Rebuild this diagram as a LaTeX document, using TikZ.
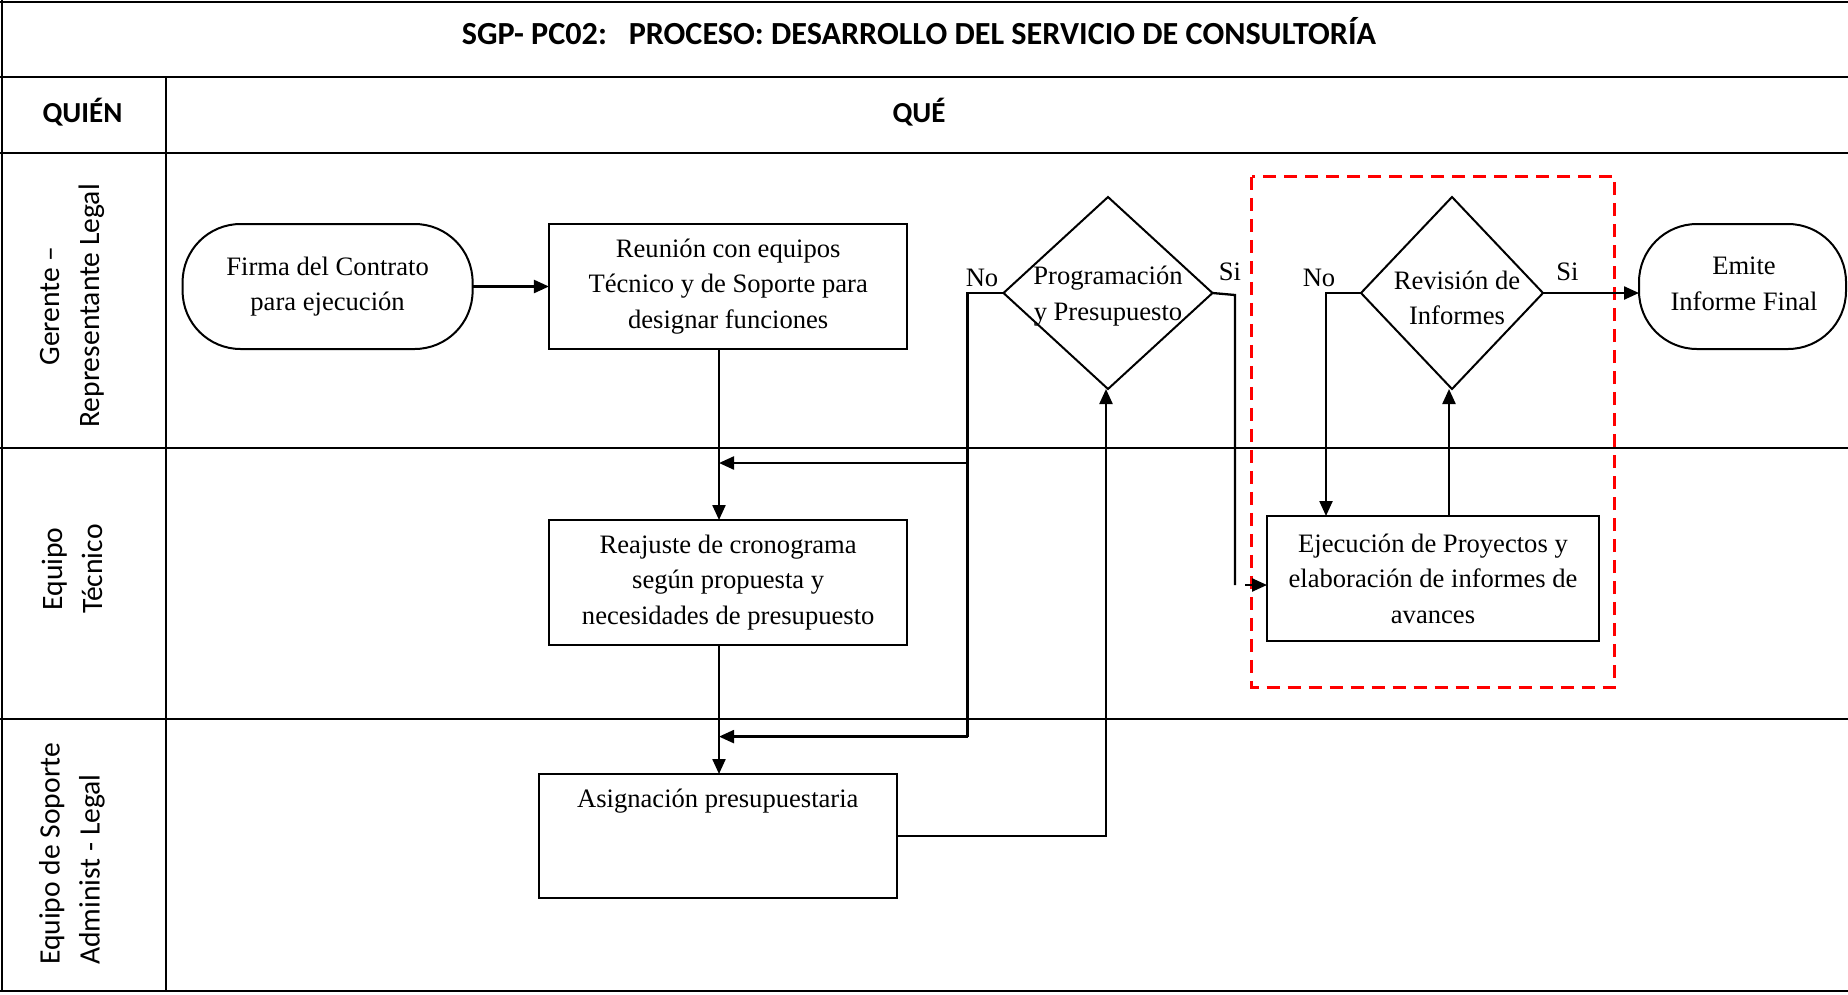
\documentclass[tikz,border=0pt]{standalone}
\usepackage{fontspec}
\setmainfont{Liberation Serif}
\newfontfamily\hdrfont{Carlito}
\usetikzlibrary{arrows.meta,shapes.geometric}
\begin{document}
\begin{tikzpicture}[x=1pt,y=-1pt,
  every node/.style={inner sep=0pt,outer sep=0pt},
  grid/.style={line width=2pt,black},
  txt/.style={align=center,font=\fontsize{26.6}{35.4}\selectfont},
  hdr/.style={font=\hdrfont\bfseries\fontsize{29}{34}\selectfont},
  lane/.style={rotate=90,font=\hdrfont\fontsize{29.6}{40}\selectfont},
  procbox/.style={draw,line width=2pt,rectangle},
  termbox/.style={draw,line width=2pt,rectangle,rounded corners=58pt},
  decbox/.style={draw,line width=2pt,diamond},
  flow/.style={line width=2.3pt},
  arr/.style={flow,-{Triangle[length=15pt,width=13pt]}},
  lbl/.style={font=\fontsize{26.6}{30}\selectfont},
  redbox/.style={draw=red,line width=3pt,dash pattern=on 13pt off 8pt}
]
\useasboundingbox (0,0) rectangle (1848,994);
\fill[white] (0,0) rectangle (1848,994);

% table frame
\draw[grid] (0,1.5) -- (1848,1.5);
\draw[grid] (0,76.6) -- (1848,76.6);
\draw[grid] (0,153) -- (1848,153);
\draw[grid] (0,448) -- (1848,448);
\draw[grid] (0,719) -- (1848,719);
\draw[grid] (0,991) -- (1848,991);
\draw[grid] (1.5,0) -- (1.5,992);
\draw[grid] (166,76.6) -- (166,992);

% headings
\node[hdr,font=\hdrfont\bfseries\fontsize{32.2}{36}\selectfont] (title) at (919,31) {SGP- PC02:\ \ \ PROCESO: DESARROLLO DEL SERVICIO DE CONSULTORÍA};
\node[hdr] (quien) at (82.5,112) {QUIÉN};
\node[hdr] (que) at (919,112) {QUÉ};

% lane names
\node[lane,align=center] (lane1) at (72,306) {Gerente –\\Representante Legal};
\node[lane,align=center] (lane2) at (72,569) {Equipo\\Técnico};
\node[lane,align=left] (lane3) at (72,854) {Equipo de Soporte\\Administ - Legal};

% review group
\draw[redbox] (1251.7,176.8) rectangle (1614.7,687);

% steps
\node[termbox,minimum width=290pt,minimum height=125pt] (firma) at (327.6,286.5) {};
\node[txt] at (firma.center) {Firma del Contrato\\para ejecución};

\node[procbox,minimum width=358.5pt,minimum height=125pt] (reunion) at (728.2,286.5) {};
\node[txt] at (reunion.center) {Reunión con equipos\\Técnico y de Soporte para\\designar funciones};

\node[procbox,minimum width=358.5pt,minimum height=125pt] (reajuste) at (728.2,582.5) {};
\node[txt] at (reajuste.center) {Reajuste de cronograma\\según propuesta y\\necesidades de presupuesto};

\node[procbox,minimum width=358.4pt,minimum height=124pt] (asig) at (717.8,836) {};
\node[txt,anchor=center] at (717.8,801) {Asignación presupuestaria};

\node[decbox,minimum width=209pt,minimum height=192pt] (prog) at (1108,293) {};
\node[txt] at (1108,296) {Programación\\y Presupuesto};

\node[decbox,minimum width=182pt,minimum height=192pt] (rev) at (1452,293) {};
\node[txt] at (1457,298) {Revisión de\\Informes};

\node[procbox,minimum width=332pt,minimum height=125pt] (ejec) at (1433,578.5) {};
\node[txt] at (ejec.center) {Ejecución de Proyectos y\\elaboración de informes de\\avances};

\node[termbox,minimum width=207pt,minimum height=125pt] (emite) at (1742.5,286.5) {};
\node[txt] at (1744,284) {Emite\\Informe Final};

% branch labels
\node[lbl] (no1) at (982,278) {No};
\node[lbl] (si1) at (1230,272) {Si};
\node[lbl] (no2) at (1319,278) {No};
\node[lbl] (si2) at (1567.5,272) {Si};

% helper points
\coordinate (colx) at (719,0);
\coordinate (noA) at (967.6,463);
\coordinate (noB) at (967.6,736.6);
\coordinate (siA) at (1235,295);
\coordinate (siB) at (1235,585);
\coordinate (siC) at (1245,585);
\coordinate (revno) at (1326,0);

% connectors
\draw[arr] (firma.east) -- (reunion.west);
\draw[arr] (reunion.south -| colx) -- (reajuste.north -| colx);
\draw[arr] (reajuste.south -| colx) -- (asig.north -| colx);
\draw[flow] (prog.west) -| (noB);
\draw[arr] (noA) -- (noA -| colx);
\draw[arr] (noB) -- (noB -| colx);
\draw[arr] (asig.east) -| ([xshift=-2pt]prog.south);
\draw[flow] (prog.east) -- (siA) -- (siB);
\draw[arr] (siC) -- (siC -| ejec.west);
\draw[arr] (rev.west) -| (ejec.north -| revno);
\draw[arr] ([xshift=-3pt]ejec.north -| rev.south) -- ([xshift=-3pt]rev.south);
\draw[arr] (rev.east) -- (rev.east -| emite.west);
\end{tikzpicture}
\end{document}
